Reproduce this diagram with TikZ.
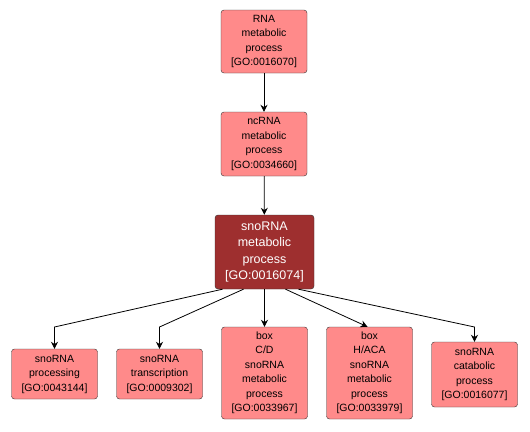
\documentclass[tikz,border=0pt]{standalone}
\usepackage{fontspec}
\setmainfont{Liberation Sans}
\usepackage{xcolor}
\usetikzlibrary{arrows.meta, positioning}

\definecolor{termfill}{HTML}{FF8A8A}
\definecolor{selfill}{HTML}{9E2F2F}

\begin{document}
\begin{tikzpicture}[x=1pt, y=-1pt,
      goterm/.style = {shape=rectangle, rounded corners=3pt, draw=black!80,
        fill=termfill, align=center, inner sep=1pt, minimum width=86pt,
        font=\fontsize{10.5}{14.5}\selectfont},
      goselected/.style = {goterm, fill=selfill, text=white, minimum width=99pt,
        font=\fontsize{12.5}{16.5}\selectfont},
      edge/.style = {draw=black, line width=0.8pt, -{Stealth[length=7pt, width=7pt]}}
    ]
      \useasboundingbox[fill=white] (0,0) rectangle (530,431);

      % upper chain
      \node[goterm, minimum height=63pt] (rna) at (264,41.5)
        {RNA\\metabolic\\process\\{[GO:0016070]}};
      \node[goterm, minimum height=64pt] (ncrna) at (264,144)
        {ncRNA\\metabolic\\process\\{[GO:0034660]}};
      \node[goselected, minimum height=74pt] (snorna) at (264.5,252)
        {snoRNA\\metabolic\\process\\{[GO:0016074]}};

      % children
      \node[goterm, minimum height=50pt] (proc) at (54.5,374)
        {snoRNA\\processing\\{[GO:0043144]}};
      \node[goterm, minimum height=50pt] (trans) at (159.5,374)
        {snoRNA\\transcription\\{[GO:0009302]}};
      \node[goterm, minimum height=92pt] (boxcd) at (264.5,373)
        {box\\C/D\\snoRNA\\metabolic\\process\\{[GO:0033967]}};
      \node[goterm, minimum height=92pt] (boxhaca) at (369.5,373)
        {box\\H/ACA\\snoRNA\\metabolic\\process\\{[GO:0033979]}};
      \node[goterm, minimum height=65pt] (catab) at (474.5,374.5)
        {snoRNA\\catabolic\\process\\{[GO:0016077]}};

      \coordinate (kproc) at (54.5,327);
      \coordinate (ktrans) at (159.5,327);
      \coordinate (kcatab) at (474.5,327);

      \draw[edge] (rna) -- (ncrna);
      \draw[edge] (ncrna) -- (snorna);
      \draw[edge] ([xshift=-42pt]snorna.south) -- (kproc) -- (proc.north);
      \draw[edge] ([xshift=-21pt]snorna.south) -- (ktrans) -- (trans.north);
      \draw[edge] (snorna) -- (boxcd);
      \draw[edge] ([xshift=21pt]snorna.south) -- ([xshift=-2pt]boxhaca.north);
      \draw[edge] ([xshift=34pt]snorna.south) -- (kcatab) -- (catab.north);
    \end{tikzpicture}
\end{document}
